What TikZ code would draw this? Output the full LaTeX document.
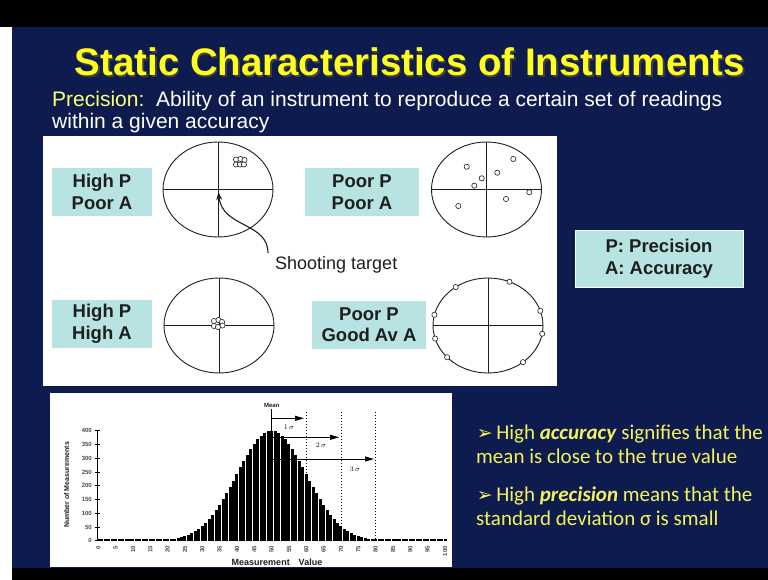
\documentclass[tikz,border=0pt]{standalone}
\usepackage{fontspec}
\setmainfont{Liberation Sans}
\newfontfamily\bulletfont{Carlito}
\newfontfamily\symfont{DejaVu Sans}
\usetikzlibrary{arrows.meta,calc}
\definecolor{Navy}{HTML}{0D1B4F}
\definecolor{Lemon}{HTML}{FFFF1F}
\definecolor{Pale}{HTML}{FFFF73}
\definecolor{Aqua}{HTML}{B7E4E2}
\definecolor{Ink}{HTML}{1E1E1E}
\definecolor{Straw}{HTML}{F4F25C}

\begin{document}
\begin{tikzpicture}[x=1pt, y=-1pt,
    tag/.style={fill=Aqua, text=Ink, font=\bfseries\fontsize{18.5}{21.5}\selectfont, align=center, minimum height=48pt, inner sep=0pt},
    target/.style={draw=Ink, line width=0.9pt},
    hit/.style={draw=Ink, fill=white, line width=0.6pt},
    note/.style={text=Straw, font=\bulletfont\fontsize{21}{24}\selectfont, anchor=base west, inner sep=0pt},
    sigma/.style={-{Triangle[length=9pt,width=5pt]}, line width=0.9pt},
    tiny/.style={font=\bfseries\fontsize{6}{6}\selectfont, text=Ink!80, inner sep=1pt}
  ]
    \useasboundingbox (0,0) rectangle (768,580);
    \fill[white] (0,0) rectangle (768,580);
    \fill[black] (0,0) rectangle (768,27);
    \fill[Navy] (12,27) rectangle (768,568);
    \fill[black] (12,568) rectangle (768,580);

    % heading
    \node[text=black!75, font=\bfseries\fontsize{38.4}{40}\selectfont, anchor=base] (shade) at (411.5,77.5) {Static Characteristics of Instruments};
    \node[text=Lemon, font=\bfseries\fontsize{38.4}{40}\selectfont, anchor=base] (title) at (410,76) {Static Characteristics of Instruments};
    \node[anchor=base west, inner sep=0pt, text=white, font=\fontsize{21}{22}\selectfont] (defn) at (52,107)
      {\textcolor{Pale}{Precision:}\ \ Ability of an instrument to reproduce a certain set of readings};
    \node[anchor=base west, inner sep=0pt, text=white, font=\fontsize{21}{22}\selectfont] (defnb) at (52,129) {within a given accuracy};

    % targets
    \fill[white] (43,136) rectangle (557,386);
    \node[tag, minimum width=100pt] (hpa) at (102,192) {High P\\Poor A};
    \node[tag, minimum width=114pt] (ppa) at (362,192) {Poor P\\Poor A};
    \node[tag, minimum width=100pt] (hph) at (102,324) {High P\\High A};
    \node[tag, minimum width=114pt] (ppg) at (369,324.5) {Poor P\\Good Av A};

    \coordinate (t1) at (218,189.5);
    \coordinate (t2) at (486.5,189.5);
    \coordinate (t3) at (219,325.5);
    \coordinate (t4) at (488,325.5);
    \foreach \t in {t1,t2,t3,t4}{
      \draw[target] (\t) ellipse [x radius=55, y radius=47.5];
      \draw[target] ($(\t)+(-55,0)$) -- ($(\t)+(55,0)$);
      \draw[target] ($(\t)+(0,-47.5)$) -- ($(\t)+(0,47.5)$);
    }
    \foreach \dx/\dy in {-4/-2.5,0.5/-3,4.5/-2,-4/2.5,0/2.5,4/2.5}
      \draw[hit] ($(240,162)+(\dx,\dy)$) circle (2.6);
    \foreach \dx/\dy in {-4/-3,0.5/-4,4/-2,-4/2,0/3,4.5/1.5}
      \draw[hit] ($(218,324)+(\dx,\dy)$) circle (2.6);
    \foreach \px/\py in {466.7/166.7,513.3/159,497.3/172.7,481.7/178.3,474.3/185.7,529.3/192.3,506/199,458.3/206}
      \draw[hit] (\px,\py) circle (2.6);
    \foreach \a in {-126,-67,-18,-167,10,164,138,50.5}
      \draw[hit] ($(t4)+(\a:55 and 47.5)$) circle (2.6);

    \node[font=\fontsize{18}{20}\selectfont, text=Ink, anchor=west, inner sep=0pt] (shoot) at (275,265) {Shooting target};
    \coordinate (tail) at (268,253);
    \coordinate (aim) at (218.5,192);
    \draw[-{Stealth[length=8pt,width=6pt]}, line width=1.1pt, Ink] (tail) .. controls (268,222) and (222,228) .. (aim);

    \node[tag, draw=white, line width=0.8pt, minimum width=168pt, minimum height=57pt] (key) at (659,258.5) {P: Precision\\A: Accuracy};

    % distribution
    \fill[white] (50,393) rectangle (452,567);
    \foreach \i in {0,...,100}{
      \pgfmathsetmacro\h{max(400*exp(-((\i-50)/10)^2/2),8)}
      \fill[black] ({98.3+3.467*\i-1.5},540.7) rectangle ({98.3+3.467*\i+1.5},{540.7-0.275*\h});
    }
    \draw[line width=1.4pt] (97.3,430) -- (97.3,541);
    \foreach \v in {0,50,...,400}{
      \draw[line width=0.8pt] (94.5,{540.7-0.275*\v}) -- (100,{540.7-0.275*\v});
      \node[tiny, anchor=east] at (93,{540.7-0.275*\v}) {\v};
    }
    \foreach \v in {0,5,...,100}
      \node[tiny, rotate=90, anchor=east] at ({98.3+3.467*\v},545) {\v};
    \node[font=\bfseries\fontsize{7}{7}\selectfont, text=Ink, rotate=90] (ylab) at (66.7,485) {Number of Measurements};
    \node[font=\bfseries\fontsize{9}{9}\selectfont, text=Ink] (xlab) at (277,562) {Measurement\quad Value};

    \coordinate (mtop) at (271.7,409);
    \draw[line width=1.2pt] (mtop) -- (271.7,540);
    \node[font=\bfseries\fontsize{6}{6}\selectfont, text=Ink, above, inner sep=1pt] (mean) at (mtop) {Mean};
    \foreach \x in {306.3,341,375.7}
      \draw[dotted, line width=1pt] (\x,412) -- (\x,540);
    \draw[sigma] (271.7,418.3) -- (304,418.3);
    \draw[sigma] (271.7,437.3) -- (339,437.3);
    \draw[sigma] (271.7,459) -- (374,459);
    \node[font=\fontsize{7}{7}\selectfont] (s1) at (289,427) {$1\,\sigma$};
    \node[font=\fontsize{7}{7}\selectfont] (s2) at (321,445) {$2\,\sigma$};
    \node[font=\fontsize{7}{7}\selectfont] (s3) at (355,469) {$3\,\sigma$};

    % remarks
    \node[note] (acc) at (476.7,439) {{\symfont\fontsize{19}{19}\selectfont ➢}\,High \textbf{\textit{accuracy}} signifies that the};
    \node[note] (accb) at (476,463) {mean is close to the true value};
    \node[note] (prec) at (476.7,501) {{\symfont\fontsize{19}{19}\selectfont ➢}\,High \textbf{\textit{precision}} means that the};
    \node[note] (precb) at (476,525) {standard deviation σ is small};
  \end{tikzpicture}
\end{document}
